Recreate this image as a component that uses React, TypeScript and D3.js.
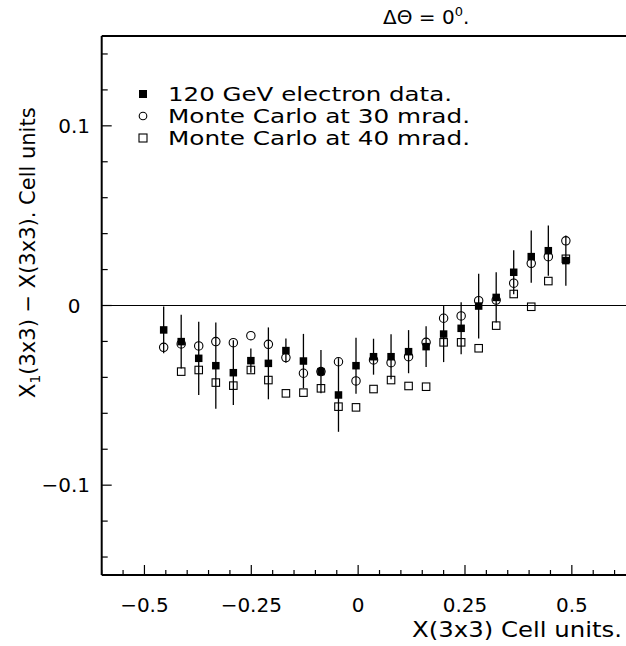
import React from "react";
import * as d3 from "d3";

// x positions of the bins (Cell units)
const xPos = [
  -0.455, -0.414, -0.373, -0.333, -0.292, -0.251, -0.21, -0.169, -0.128, -0.087, -0.046, -0.005,
  0.036, 0.077, 0.118, 0.159, 0.2, 0.241, 0.282, 0.323, 0.364, 0.405, 0.445, 0.486,
];
// 120 GeV electron data
const dataY = [
  -0.0136, -0.0201, -0.0294, -0.0335, -0.0374, -0.0307, -0.0322, -0.0251, -0.0309, -0.0368, -0.0498, -0.0335,
  -0.0285, -0.0285, -0.0257, -0.0229, -0.0159, -0.0127, -0.0003, 0.0045, 0.0185, 0.0272, 0.0305, 0.025,
];
const dataErr = [
  0.013, 0.015, 0.0204, 0.024, 0.018, 0.0067, 0.02, 0.0067, 0.0151, 0.012, 0.0205, 0.0156,
  0.01, 0.0125, 0.012, 0.0113, 0.0156, 0.0145, 0.018, 0.014, 0.0122, 0.0145, 0.014, 0.014,
];
// Monte Carlo at 30 mrad
const mc30Y = [
  -0.0233, -0.0214, -0.0225, -0.0201, -0.0207, -0.0168, -0.0216, -0.029, -0.0377, -0.0368, -0.0313, -0.042,
  -0.0303, -0.0318, -0.0285, -0.0205, -0.0071, -0.0058, 0.0027, 0.003, 0.0124, 0.0235, 0.0272, 0.036,
];
// Monte Carlo at 40 mrad
const mc40Y: (number | null)[] = [
  null, -0.0368, -0.0359, -0.0429, -0.0446, -0.0359, -0.0415, -0.0489, -0.0485, -0.0461, -0.0563, -0.0567,
  -0.0465, -0.0415, -0.0448, -0.0452, -0.0205, -0.0205, -0.0238, -0.0112, 0.0064, -0.0007, 0.0136, 0.026,
];

const xTickLabels = [-0.5, -0.25, 0, 0.25, 0.5];
const yTickLabels = [-0.1, 0, 0.1];
const legendLabels = [
  "120 GeV electron data.",
  "Monte Carlo at 30 mrad.",
  "Monte Carlo at 40 mrad.",
];

const FONT = "'DejaVu Sans', sans-serif";
const fmt = (v: number) => (v === 0 ? "0" : String(v).replace("-", "\u2212"));

export default function App() {
  const W = 626;
  const H = 646;
  const left = 101.7;
  const pxPerUnit = 427.4;
  const x = d3.scaleLinear().domain([-0.6, 0.65]).range([left, left + 1.25 * pxPerUnit]);
  const y = d3.scaleLinear().domain([-0.15, 0.15]).range([575, 36]);

  const xTicks = d3.range(-12, 14).map((i) => i * 0.05);
  const yTicks = d3.range(-7, 8).map((i) => i * 0.02);
  const isMajorX = (v: number) => Math.abs(v / 0.25 - Math.round(v / 0.25)) < 1e-6;
  const isMajorY = (v: number) => Math.abs(v / 0.1 - Math.round(v / 0.1)) < 1e-6;

  const sq = 7.5;
  const osq = 7.5;
  const r = 4.2;
  const legendLen = [284, 302, 302];

  return (
    <svg
      width={W}
      height={H}
      style={{ position: "absolute", left: 0, top: 0, background: "#fff" }}
      fontFamily={FONT}
    >
      <rect x={0} y={0} width={W} height={H} fill="#fff" />
      {/* title */}
      <text x={383} y={24} fontSize={20} fill="#000">
        ΔΘ = 0<tspan fontSize={13} dy={-8}>0</tspan>
        <tspan dy={8}>.</tspan>
      </text>

      {/* zero line */}
      <line x1={x(-0.6)} x2={x(0.65)} y1={y(0)} y2={y(0)} stroke="#000" strokeWidth={1} />

      {/* error bars */}
      {xPos.map((xv, i) => (
        <line
          key={"e" + i}
          x1={x(xv)}
          x2={x(xv)}
          y1={y(dataY[i] + dataErr[i])}
          y2={y(dataY[i] - dataErr[i])}
          stroke="#000"
          strokeWidth={1.3}
        />
      ))}

      {/* MC 40 mrad: open squares */}
      {xPos.map((xv, i) =>
        mc40Y[i] == null ? null : (
          <rect
            key={"s" + i}
            x={x(xv) - osq / 2}
            y={y(mc40Y[i] as number) - osq / 2}
            width={osq}
            height={osq}
            fill="none"
            stroke="#000"
            strokeWidth={1.1}
          />
        )
      )}
      {/* MC 30 mrad: open circles */}
      {xPos.map((xv, i) => (
        <circle key={"c" + i} cx={x(xv)} cy={y(mc30Y[i])} r={r} fill="none" stroke="#000" strokeWidth={1.1} />
      ))}
      {/* data: filled squares */}
      {xPos.map((xv, i) => (
        <rect key={"d" + i} x={x(xv) - sq / 2} y={y(dataY[i]) - sq / 2} width={sq} height={sq} fill="#000" />
      ))}

      {/* frame */}
      <line x1={left} x2={left} y1={y(0.15)} y2={y(-0.15)} stroke="#000" strokeWidth={2} />
      <line x1={left} x2={x(0.65)} y1={y(0.15)} y2={y(0.15)} stroke="#000" strokeWidth={2} />
      <line x1={left} x2={x(0.65)} y1={y(-0.15)} y2={y(-0.15)} stroke="#000" strokeWidth={2} />

      {/* x ticks */}
      {xTicks.map((t, i) => (
        <line
          key={"xt" + i}
          x1={x(t)}
          x2={x(t)}
          y1={y(-0.15)}
          y2={y(-0.15) - (isMajorX(t) ? 10 : 5)}
          stroke="#000"
          strokeWidth={1.2}
        />
      ))}
      {xTickLabels.map((t) => (
        <text key={"xl" + t} x={x(t)} y={612} fontSize={20} textAnchor="middle" fill="#000">
          {fmt(t)}
        </text>
      ))}
      <text x={412} y={637} fontSize={21} textLength={210} lengthAdjust="spacingAndGlyphs" fill="#000">
        X(3x3) Cell units.
      </text>

      {/* y ticks */}
      {yTicks.map((t, i) => (
        <line
          key={"yt" + i}
          x1={left}
          x2={left + (isMajorY(t) ? 10 : 6)}
          y1={y(t)}
          y2={y(t)}
          stroke="#000"
          strokeWidth={1.2}
        />
      ))}
      {yTickLabels.map((t) => (
        <text
          key={"yl" + t}
          x={t === 0 ? 74 : 90}
          y={y(t) + 7}
          fontSize={20}
          textAnchor={t === 0 ? "middle" : "end"}
          fill="#000"
        >
          {fmt(t)}
        </text>
      ))}
      <text transform={`translate(35, 398) rotate(-90)`} fontSize={21} fill="#000">
        X<tspan fontSize={14} dy={5}>1</tspan>
        <tspan dy={-5}>(3x3) − X(3x3). Cell units</tspan>
      </text>

      {/* legend */}
      {legendLabels.map((lab, i) => {
        const cy = 94 + i * 22;
        return (
          <g key={"lg" + i}>
            {i === 0 && <rect x={143 - 4} y={cy - 4} width={8} height={8} fill="#000" />}
            {i === 1 && <circle cx={143} cy={cy} r={3.8} fill="none" stroke="#000" strokeWidth={1.1} />}
            {i === 2 && (
              <rect x={143 - 4} y={cy - 4} width={8} height={8} fill="none" stroke="#000" strokeWidth={1.1} />
            )}
            <text
              x={168}
              y={cy + 7}
              fontSize={20}
              textLength={legendLen[i]}
              lengthAdjust="spacingAndGlyphs"
              fill="#000"
            >
              {lab}
            </text>
          </g>
        );
      })}
    </svg>
  );
}
